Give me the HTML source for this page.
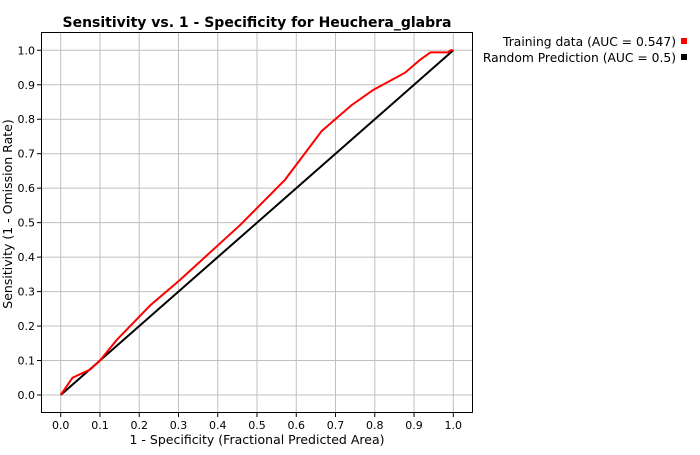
<!DOCTYPE html>
<html><head><meta charset="utf-8"><style>
body{margin:0;background:#fff;}
svg text{font-family:"DejaVu Sans","Liberation Sans",sans-serif;}
</style></head><body>
<svg id="chart" width="700" height="450" xmlns="http://www.w3.org/2000/svg">
<text x="257" y="27" text-anchor="middle" font-size="14" font-weight="bold">Sensitivity vs. 1 - Specificity for Heuchera_glabra</text>
<rect x="41.5" y="32.5" width="431" height="380" fill="none" stroke="#000"/>
<g id="grid"></g><g id="series"></g>
<text x="257" y="444" text-anchor="middle" font-size="12.5">1 - Specificity  (Fractional Predicted Area)</text>
<text transform="translate(12,214) rotate(-90)" text-anchor="middle" font-size="12.5">Sensitivity  (1 - Omission Rate)</text>
<g>
<text x="676" y="46" text-anchor="end" font-size="12.3">Training data (AUC = 0.547)</text>
<rect x="681" y="38" width="6" height="6" fill="#f00"/>
<text x="676" y="62" text-anchor="end" font-size="12.3">Random Prediction (AUC = 0.5)</text>
<rect x="681" y="54" width="6" height="6" fill="#000"/>
</g>
</svg>
<script>
const ticks=[0,0.1,0.2,0.3,0.4,0.5,0.6,0.7,0.8,0.9,1.0];
const trainX=[0,0.03,0.075,0.1,0.143,0.228,0.304,0.457,0.571,0.665,0.741,0.796,0.877,0.915,0.942,0.987,0.993,1];
const trainY=[0,0.05,0.074,0.10,0.16,0.26,0.334,0.493,0.624,0.766,0.841,0.885,0.935,0.972,0.994,0.994,1,1];
const randX=[0,1];
const randY=[0,1];
const NS="http://www.w3.org/2000/svg";
const sx=v=>60.7+v*392.6, sy=v=>395-v*344.7;
const grid=document.getElementById('grid'), ser=document.getElementById('series');
function mk(tag,attrs,parent){const e=document.createElementNS(NS,tag);for(const k in attrs)e.setAttribute(k,attrs[k]);parent.appendChild(e);return e;}
ticks.forEach(t=>{
  let l=mk('line',{x1:sx(t),x2:sx(t),y1:33,y2:412,stroke:'#c0c0c0'},grid);
  
  
  l=mk('line',{x1:42,x2:472,y1:sy(t),y2:sy(t),stroke:'#c0c0c0'},grid);
  
  
  let tk=mk('line',{x1:sx(t),x2:sx(t),y1:412,y2:417,stroke:'#000'},grid);
  
  
  tk=mk('line',{x1:37,x2:42,y1:sy(t),y2:sy(t),stroke:'#000'},grid);
  
  
  let tx=mk('text',{x:sx(t),y:429,'text-anchor':'middle','font-size':'11'},grid);
  tx.textContent=t.toFixed(1);
  
  
  tx=mk('text',{x:35,y:sy(t)+4,'text-anchor':'end','font-size':'11'},grid);
  tx.textContent=t.toFixed(1);
  
  
});
function line(xs,ys,color,name){
  const p=mk('polyline',{points:xs.map((x,i)=>sx(x)+','+sy(ys[i])).join(' '),fill:'none',stroke:color,'stroke-width':2},ser);
  
  
}
line(randX,randY,'#000','random-prediction-line');
line(trainX,trainY,'#f00','training-data-line');
</script>
</body></html>
